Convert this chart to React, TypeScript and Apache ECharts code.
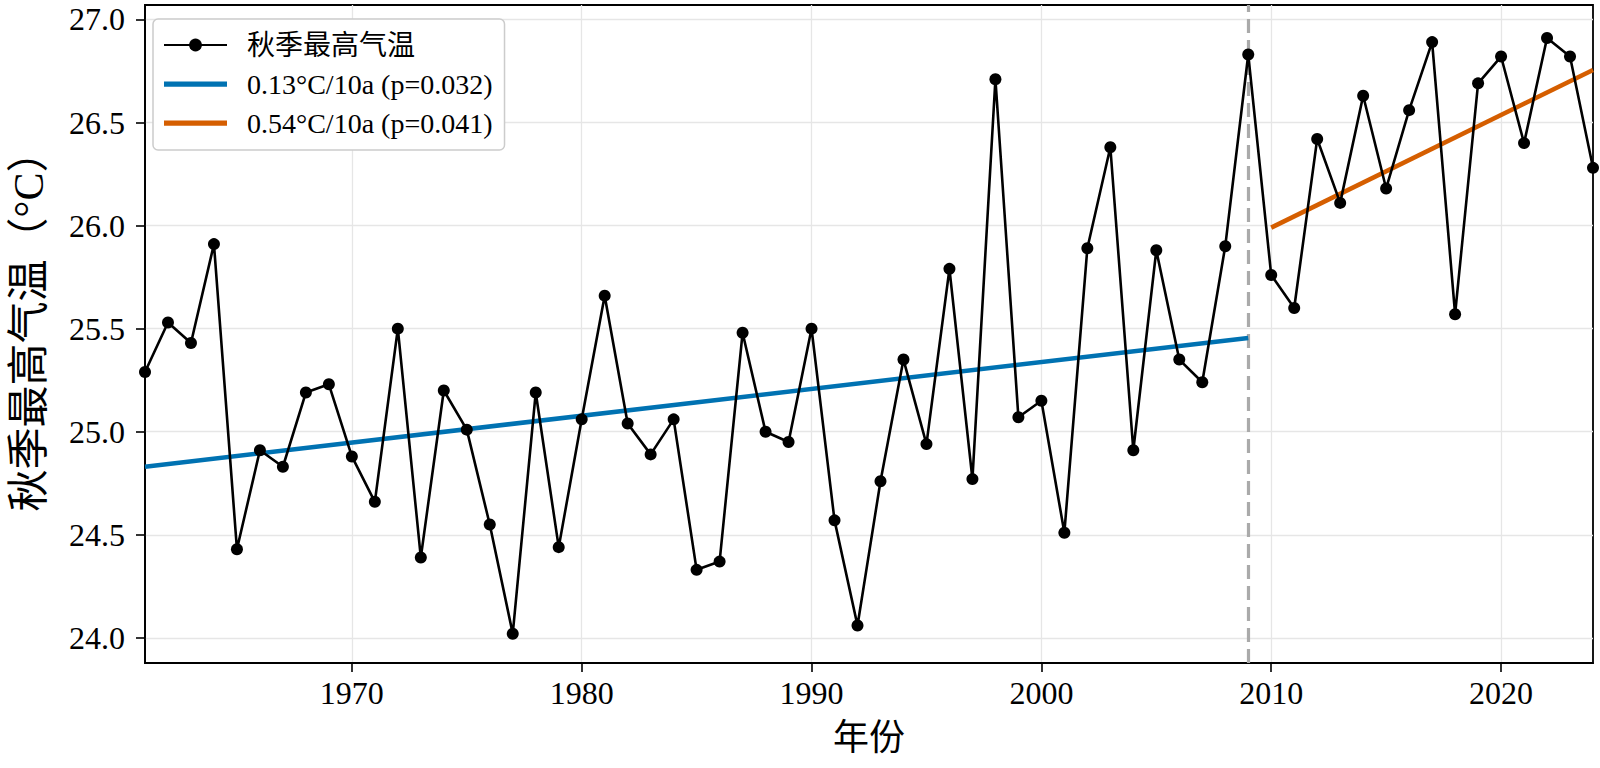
import React, { useEffect, useRef } from "react";
import * as echarts from "echarts";

const years: number[] = [
  1961, 1962, 1963, 1964, 1965, 1966, 1967, 1968, 1969, 1970,
  1971, 1972, 1973, 1974, 1975, 1976, 1977, 1978, 1979, 1980,
  1981, 1982, 1983, 1984, 1985, 1986, 1987, 1988, 1989, 1990,
  1991, 1992, 1993, 1994, 1995, 1996, 1997, 1998, 1999, 2000,
  2001, 2002, 2003, 2004, 2005, 2006, 2007, 2008, 2009, 2010,
  2011, 2012, 2013, 2014, 2015, 2016, 2017, 2018, 2019, 2020,
  2021, 2022, 2023, 2024,
];

const temps: number[] = [
  25.29, 25.53, 25.43, 25.91, 24.43, 24.91, 24.83, 25.19, 25.23, 24.88,
  24.66, 25.5, 24.39, 25.2, 25.01, 24.55, 24.02, 25.19, 24.44, 25.06,
  25.66, 25.04, 24.89, 25.06, 24.33, 24.37, 25.48, 25.0, 24.95, 25.5,
  24.57, 24.06, 24.76, 25.35, 24.94, 25.79, 24.77, 26.71, 25.07, 25.15,
  24.51, 25.89, 26.38, 24.91, 25.88, 25.35, 25.24, 25.9, 26.83, 25.76,
  25.6, 26.42, 26.11, 26.63, 26.18, 26.56, 26.89, 25.57, 26.69, 26.82,
  26.4, 26.91, 26.82, 26.28,
];

const trend1: number[][] = [
  [1961, 24.83],
  [2009, 25.455],
];
const trend2: number[][] = [
  [2010, 25.99],
  [2024, 26.755],
];

const breakYear = 2009;
const xTicks: number[] = [1970, 1980, 1990, 2000, 2010, 2020];
const yTicks: number[] = [24.0, 24.5, 25.0, 25.5, 26.0, 26.5, 27.0];

const seriesName = "秋季最高气温";
const trend1Name = "0.13°C/10a (p=0.032)";
const trend2Name = "0.54°C/10a (p=0.041)";

const serif = "'Liberation Serif', 'Times New Roman', 'Noto Sans CJK SC', serif";
const cjk = "'Liberation Serif', 'Noto Sans CJK SC', serif";

const barIcon = "path://M0,0H60V5H0Z";

export default function App() {
  const ref = useRef<HTMLDivElement>(null);

  useEffect(() => {
    if (!ref.current) return;
    const chart = echarts.init(ref.current, null, { renderer: "svg" });
    const data = years.map((y, i) => [y, temps[i]]);
    const option: any = {
      animation: false,
      backgroundColor: "#ffffff",
      grid: {
        left: 140,
        right: 7,
        top: 5,
        bottom: 105,
        show: true,
        borderColor: "#000000",
        borderWidth: 1.8,
        backgroundColor: "transparent",
      },
      legend: {
        orient: "vertical",
        left: 153,
        top: 19,
        padding: [12, 12, 13, 10],
        itemGap: 11,
        itemWidth: 63,
        itemHeight: 16,
        backgroundColor: "#ffffff",
        borderColor: "#cccccc",
        borderWidth: 1.5,
        borderRadius: 5,
        textStyle: {
          fontFamily: cjk,
          fontSize: 28,
          color: "#000000",
          padding: [0, 0, 0, 15],
        },
        data: [
          { name: seriesName },
          { name: trend1Name, icon: barIcon },
          { name: trend2Name, icon: barIcon },
        ],
      },
      xAxis: {
        type: "value",
        min: 1961,
        max: 2024,
        name: "年份",
        nameLocation: "middle",
        nameGap: 57,
        nameTextStyle: { fontFamily: cjk, fontSize: 36, color: "#000" },
        axisLine: { show: true, onZero: false, lineStyle: { color: "#000", width: 1.8 } },
        axisTick: {
          show: true,
          inside: false,
          length: 9,
          lineStyle: { color: "#000", width: 1.6 },
          customValues: xTicks,
        },
        axisLabel: {
          show: true,
          margin: 14,
          fontFamily: serif,
          fontSize: 32,
          color: "#000",
          customValues: xTicks,
          formatter: (v: number) => String(v),
        },
        splitLine: { show: true, lineStyle: { color: "#e6e6e6", width: 1.3 } },
      },
      yAxis: {
        type: "value",
        min: 23.878,
        max: 27.07,
        name: "秋季最高气温（°C）",
        nameLocation: "middle",
        nameGap: 95,
        nameTextStyle: {
          fontFamily: cjk,
          fontSize: 42,
          color: "#000",
          padding: [0, 0, 0, 26],
        },
        axisLine: { show: true, onZero: false, lineStyle: { color: "#000", width: 1.8 } },
        axisTick: {
          show: true,
          inside: false,
          length: 9,
          lineStyle: { color: "#000", width: 1.6 },
          customValues: yTicks,
        },
        axisLabel: {
          show: true,
          margin: 20,
          fontFamily: serif,
          fontSize: 32,
          color: "#000",
          customValues: yTicks,
          formatter: (v: number) => v.toFixed(1),
        },
        splitLine: { show: true, lineStyle: { color: "#e6e6e6", width: 1.3 } },
      },
      series: [
        {
          name: seriesName,
          type: "line",
          data,
          symbol: "circle",
          symbolSize: 12,
          itemStyle: { color: "#000000" },
          lineStyle: { color: "#000000", width: 2.6 },
          z: 5,
          markLine: {
            silent: true,
            symbol: ["none", "none"],
            label: { show: false },
            lineStyle: { color: "#aaaaaa", type: [14, 7], width: 3.2 },
            data: [{ xAxis: breakYear }],
            z: 1,
          },
        },
        {
          name: trend1Name,
          type: "line",
          data: trend1,
          symbol: "none",
          itemStyle: { color: "#0072B2" },
          lineStyle: { color: "#0072B2", width: 4.5 },
          z: 4,
        },
        {
          name: trend2Name,
          type: "line",
          data: trend2,
          symbol: "none",
          itemStyle: { color: "#D55E00" },
          lineStyle: { color: "#D55E00", width: 4.5 },
          z: 4,
        },
      ],
    };
    chart.setOption(option);
    return () => chart.dispose();
  }, []);

  return (
    <div
      ref={ref}
      style={{ position: "fixed", left: 0, top: 0, width: 1600, height: 768, background: "#fff" }}
    />
  );
}
